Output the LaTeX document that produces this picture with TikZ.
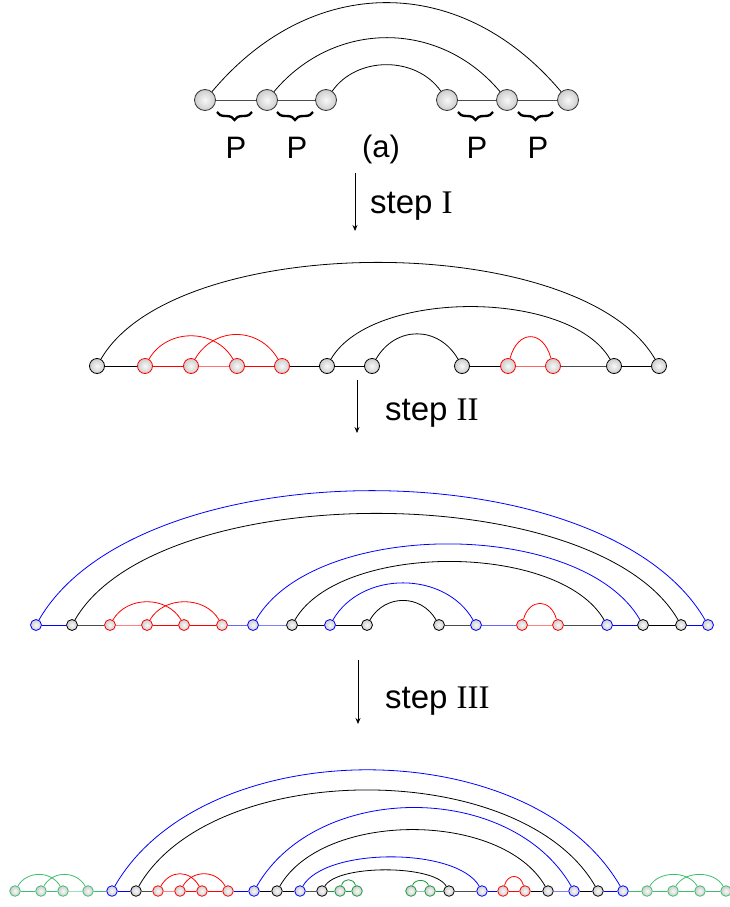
\documentclass[tikz,border=0pt]{standalone}
\usepackage{fontspec}
\setmainfont{Liberation Sans}
\newfontfamily\romfont{Liberation Serif}
\usetikzlibrary{arrows.meta,decorations.pathreplacing}
\definecolor{mygreen}{RGB}{60,190,110}
\definecolor{dkgreen}{RGB}{20,150,60}
\tikzset{
  ball/.style={circle,inner sep=0pt,draw=#1,line width=0.8pt,shading=radial,inner color=gray!5,outer color=gray!40},
  ballA/.style={ball=#1,minimum size=21pt},
  ballB/.style={ball=#1,minimum size=15pt},
  ballC/.style={ball=#1,minimum size=11pt},
  ballD/.style={ball=#1,minimum size=10.6pt},
  link/.style={line width=0.9pt,draw=#1},
  bow/.style={line width=0.8pt,draw=#1},
  lbl/.style={font=\fontsize{31}{31}\selectfont,anchor=base,inner sep=0pt},
  steplbl/.style={font=\fontsize{33}{33}\selectfont,anchor=base west,inner sep=0pt},
  stepar/.style={line width=0.7pt,-{Stealth[length=6pt,width=5pt]}},
  pbrace/.style={decorate,decoration={brace,mirror,amplitude=8pt},line width=2.4pt}
}
\newcommand\arcup[4]{\draw[bow=#4] (#1) to[out=60,in=120,distance=#3pt] (#2);}
\newcommand\arcang[5]{\draw[bow=#4] (#1) to[out=#5,in=180-#5,distance=#3pt] (#2);}
\begin{document}
\begin{tikzpicture}[x=1pt,y=-1pt]
\useasboundingbox (0,0) rectangle (730,907);
% ---------------- row (a)
\foreach \n/\x in {1/205,2/267,3/326,4/447,5/507,6/568}
  \node[ballA=black!80] (a\n) at (\x,100) {};
\foreach \p/\q in {1/2,2/3,4/5,5/6} \draw[link=black!70] (a\p) -- (a\q);
\arcang{a1}{a6}{155}{black}{50}
\arcang{a2}{a5}{94}{black}{50}
\arcang{a3}{a4}{43}{black}{55}
\draw[pbrace] (217,112) -- (252,112);
\draw[pbrace] (277,112) -- (313,112);
\draw[pbrace] (458,112) -- (493,112);
\draw[pbrace] (518,112) -- (553,112);
\node[lbl] (p1) at (236,158) {P};
\node[lbl] (p2) at (297,158) {P};
\node[lbl] (lab) at (381,157) {(a)};
\node[lbl] (p3) at (477,158) {P};
\node[lbl] (p4) at (538,158) {P};
% step I
\coordinate (s1a) at (355,173);
\coordinate (s1b) at (355,231);
\draw[stepar] (s1a) -- (s1b);
\node[steplbl] (t1) at (370,213) {step {\romfont I}};
% ---------------- row b
\foreach \n/\x/\c in {1/97/black,2/145/red,3/191/red,4/237/red,5/282/red,6/327/black,7/372/black,8/462/black,9/508/red,10/553/red,11/614/black,12/659/black}
  \node[ballB=\c] (b\n) at (\x,366) {};
\foreach \p/\q/\c in {1/2/black,2/3/red,3/4/red!55,4/5/red,5/6/black,6/7/black,8/9/black,9/10/red!60,10/11/black!70,11/12/black}
  \draw[link=\c] (b\p) -- (b\q);
\arcup{b1}{b12}{149}{black}
\arcup{b2}{b4}{36}{red}
\arcup{b3}{b5}{38}{red}
\arcup{b6}{b11}{81}{black}
\arcup{b7}{b8}{39}{black}
\arcang{b9}{b10}{30}{red}{75}
% step II
\coordinate (s2a) at (357,380);
\coordinate (s2b) at (357,433);
\draw[stepar] (s2a) -- (s2b);
\node[steplbl] (t2) at (385,420) {step {\romfont II}};
% ---------------- row c
\foreach \n/\x/\c in {1/36/blue,2/72/black,3/110/red,4/147/red,5/184/red,6/222/red,7/253/blue,8/292/black,9/330/blue,10/367/black,11/439/black,12/476/blue,13/522/red,14/558/red,15/607/blue,16/643/black,17/681/black,18/708/blue}
  \node[ballC=\c] (c\n) at (\x,625) {};
\foreach \p/\q/\c in {1/2/blue,2/3/black!70,3/4/red!50,4/5/red,5/6/red,6/7/blue!60,7/8/blue!50,8/9/black,9/10/black,11/12/black!70,12/13/blue!60,13/14/red!50,14/15/black!70,15/16/blue,16/17/black,17/18/blue}
  \draw[link=\c] (c\p) -- (c\q);
\arcup{c1}{c18}{199}{blue}
\arcup{c2}{c17}{164}{black}
\arcup{c3}{c5}{28}{red}
\arcup{c4}{c6}{28}{red}
\arcup{c7}{c16}{117}{blue}
\arcup{c8}{c15}{90}{black}
\arcup{c9}{c12}{57}{blue}
\arcup{c10}{c11}{30}{black}
\arcang{c13}{c14}{22}{red}{75}
% step III
\coordinate (s3a) at (358,660);
\coordinate (s3b) at (358,724);
\draw[stepar] (s3a) -- (s3b);
\node[steplbl] (t3) at (385,708) {step {\romfont III}};
% ---------------- row d
\foreach \n/\x/\c in {1/15/mygreen,2/41/mygreen,3/63/mygreen,4/88/mygreen,5/112/blue,6/136/black,7/158/red,8/180/red,9/202/red,10/228/red,11/254/blue,12/277/black,13/300/blue,14/322/black,15/340/dkgreen,16/357/dkgreen,17/411/dkgreen,18/430/dkgreen,19/449/black,20/482/blue,21/503/red,22/525/red,23/548/black,24/574/blue,25/598/black,26/623/blue,27/647/mygreen,28/673/mygreen,29/700/mygreen,30/726/mygreen}
  \node[ballD=\c] (d\n) at (\x,891) {};
\foreach \p/\q/\c in {1/2/mygreen,2/3/mygreen,3/4/mygreen!50,4/5/mygreen,5/6/blue,6/7/black!70,7/8/red!50,8/9/red,9/10/red,10/11/blue,11/12/black,12/13/black,13/14/black!70,14/15/dkgreen,15/16/dkgreen,17/18/dkgreen!50,18/19/dkgreen,19/20/black!70,20/21/blue,21/22/red,22/23/black,23/24/blue!50,24/25/black,25/26/blue,26/27/mygreen,27/28/mygreen,28/29/mygreen,29/30/mygreen}
  \draw[link=\c] (d\p) -- (d\q);
\arcup{d1}{d3}{18}{mygreen}
\arcup{d2}{d4}{18}{mygreen}
\arcup{d5}{d26}{179}{blue}
\arcup{d6}{d25}{148}{black}
\arcup{d7}{d9}{19}{red}
\arcup{d8}{d10}{19}{red}
\arcup{d11}{d24}{121}{blue}
\arcup{d12}{d23}{87}{black}
\arcup{d13}{d20}{45}{blue}
\arcup{d14}{d19}{25}{black}
\arcang{d15}{d16}{8}{dkgreen}{75}
\arcang{d17}{d18}{7}{dkgreen}{75}
\arcang{d21}{d22}{12.5}{red}{75}
\arcup{d27}{d29}{18}{mygreen}
\arcup{d28}{d30}{18}{mygreen}
\end{tikzpicture}
\end{document}
